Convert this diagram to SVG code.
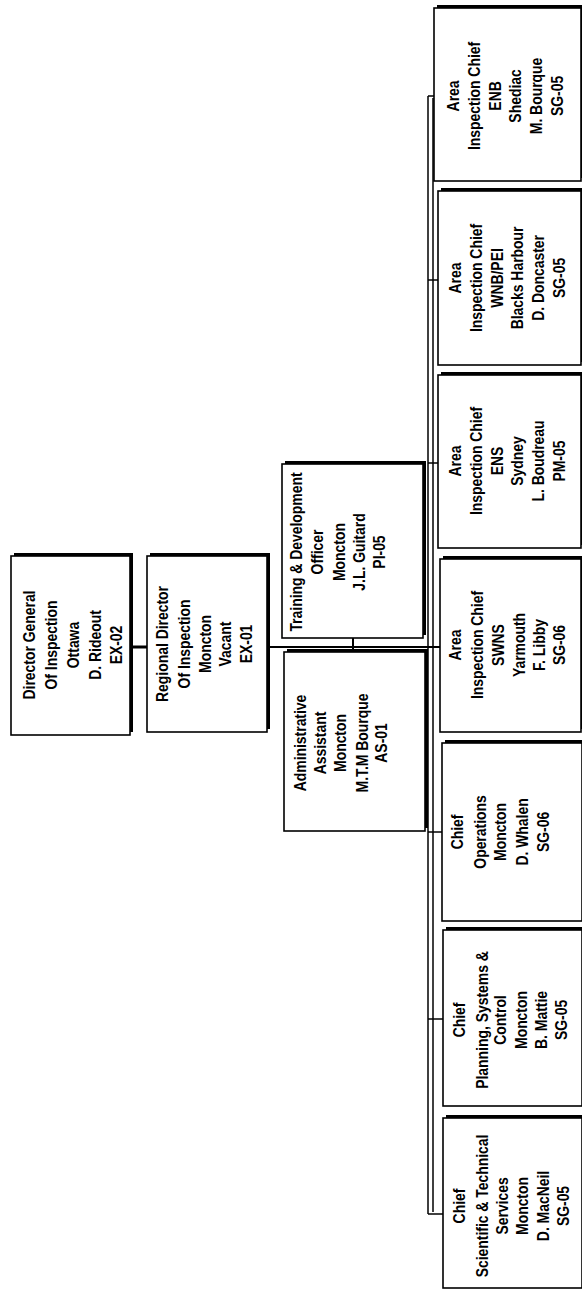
<svg xmlns="http://www.w3.org/2000/svg" width="582" height="1289" viewBox="0 0 582 1289">
<style>
.sh{fill:#000}
.bx{fill:#fff;stroke:#000;stroke-width:1.6}
.t{font-family:"Liberation Sans",Arial,sans-serif;font-weight:bold;font-size:16px;fill:#000;text-anchor:middle}
.c{stroke:#000;fill:none}
</style>
<rect width="582" height="1289" fill="#fff"/>
<g id="connectors">
<line class="c" x1="130" y1="647" x2="147" y2="647" stroke-width="3"/>
<line class="c" x1="267" y1="647" x2="440" y2="647" stroke-width="2"/>
<line class="c" x1="353" y1="638" x2="353" y2="653" stroke-width="2"/>
<line class="c" x1="428" y1="96" x2="428" y2="1214" stroke-width="1.5"/>
<line class="c" x1="433" y1="98" x2="433" y2="1212" stroke-width="1.5"/>
<line class="c" x1="428" y1="96" x2="434" y2="96" stroke-width="1.5"/>
<line class="c" x1="428" y1="280" x2="438" y2="280" stroke-width="1.5"/>
<line class="c" x1="428" y1="463" x2="438" y2="463" stroke-width="1.5"/>
<line class="c" x1="428" y1="832" x2="442" y2="832" stroke-width="1.5"/>
<line class="c" x1="428" y1="1019" x2="443" y2="1019" stroke-width="1.5"/>
<line class="c" x1="428" y1="1214" x2="443" y2="1214" stroke-width="1.5"/>
</g>
<g id="dg">
<rect class="sh" x="14" y="553" width="119" height="179"/>
<rect class="bx" x="11" y="556" width="119" height="179"/>
<text class="t" transform="rotate(-90) scale(0.87,1)"><tspan x="-741.4" y="35">Director General</tspan><tspan x="-741.4" y="57">Of Inspection</tspan><tspan x="-741.4" y="79">Ottawa</tspan><tspan x="-741.4" y="101">D. Rideout</tspan><tspan x="-741.4" y="122">EX-02</tspan></text>
</g>
<g id="rd">
<rect class="sh" x="150" y="553" width="120" height="176"/>
<rect class="bx" x="147" y="556" width="120" height="176"/>
<text class="t" transform="rotate(-90) scale(0.87,1)"><tspan x="-740.2" y="168">Regional Director</tspan><tspan x="-740.2" y="190">Of Inspection</tspan><tspan x="-740.2" y="211">Moncton</tspan><tspan x="-740.2" y="231">Vacant</tspan><tspan x="-740.2" y="252">EX-01</tspan></text>
</g>
<g id="td">
<rect class="sh" x="285" y="461" width="141" height="174"/>
<rect class="bx" x="282" y="464" width="141" height="174"/>
<text class="t" transform="rotate(-90) scale(0.87,1)"><tspan x="-634.5" y="302">Training &amp; Development</tspan><tspan x="-634.5" y="323">Officer</tspan><tspan x="-634.5" y="345">Moncton</tspan><tspan x="-634.5" y="365">J.L. Guitard</tspan><tspan x="-634.5" y="385">PI-05</tspan></text>
</g>
<g id="aa">
<rect class="sh" x="287" y="649" width="141" height="179"/>
<rect class="bx" x="284" y="652" width="141" height="179"/>
<text class="t" transform="rotate(-90) scale(0.87,1)"><tspan x="-854" y="306">Administrative</tspan><tspan x="-854" y="326">Assistant</tspan><tspan x="-854" y="346">Moncton</tspan><tspan x="-854" y="368">M.T.M Bourque</tspan><tspan x="-854" y="387">AS-01</tspan></text>
</g>
<g id="enb">
<rect class="sh" x="437" y="5" width="147" height="173"/>
<rect class="bx" x="434" y="8" width="147" height="173"/>
<text class="t" transform="rotate(-90) scale(0.87,1)"><tspan x="-110.3" y="459">Area</tspan><tspan x="-110.3" y="480">Inspection Chief</tspan><tspan x="-110.3" y="501">ENB</tspan><tspan x="-110.3" y="521">Shediac</tspan><tspan x="-110.3" y="542">M. Bourque</tspan><tspan x="-110.3" y="563">SG-05</tspan></text>
</g>
<g id="wnb">
<rect class="sh" x="441" y="188" width="143" height="174"/>
<rect class="bx" x="438" y="191" width="143" height="174"/>
<text class="t" transform="rotate(-90) scale(0.87,1)"><tspan x="-319.5" y="461">Area</tspan><tspan x="-319.5" y="482">Inspection Chief</tspan><tspan x="-319.5" y="503">WNB/PEI</tspan><tspan x="-319.5" y="523">Blacks Harbour</tspan><tspan x="-319.5" y="544">D. Doncaster</tspan><tspan x="-319.5" y="565">SG-05</tspan></text>
</g>
<g id="ens">
<rect class="sh" x="441" y="372" width="143" height="173"/>
<rect class="bx" x="438" y="375" width="143" height="173"/>
<text class="t" transform="rotate(-90) scale(0.87,1)"><tspan x="-529.9" y="461">Area</tspan><tspan x="-529.9" y="482">Inspection Chief</tspan><tspan x="-529.9" y="503">ENS</tspan><tspan x="-529.9" y="523">Sydney</tspan><tspan x="-529.9" y="544">L. Boudreau</tspan><tspan x="-529.9" y="565">PM-05</tspan></text>
</g>
<g id="swns">
<rect class="sh" x="443" y="556" width="141" height="173"/>
<rect class="bx" x="440" y="559" width="141" height="173"/>
<text class="t" transform="rotate(-90) scale(0.87,1)"><tspan x="-741.4" y="461">Area</tspan><tspan x="-741.4" y="483">Inspection Chief</tspan><tspan x="-741.4" y="504">SWNS</tspan><tspan x="-741.4" y="525">Yarmouth</tspan><tspan x="-741.4" y="545">F. Libby</tspan><tspan x="-741.4" y="565">SG-06</tspan></text>
</g>
<g id="ops">
<rect class="sh" x="445" y="740" width="140" height="178"/>
<rect class="bx" x="442" y="743" width="140" height="178"/>
<text class="t" transform="rotate(-90) scale(0.87,1)"><tspan x="-956.3" y="463">Chief</tspan><tspan x="-956.3" y="486">Operations</tspan><tspan x="-956.3" y="506">Moncton</tspan><tspan x="-956.3" y="528">D. Whalen</tspan><tspan x="-956.3" y="549">SG-06</tspan></text>
</g>
<g id="plan">
<rect class="sh" x="446" y="927" width="139" height="176"/>
<rect class="bx" x="443" y="930" width="139" height="176"/>
<text class="t" transform="rotate(-90) scale(0.87,1)"><tspan x="-1172.4" y="465">Chief</tspan><tspan x="-1172.4" y="488">Planning, Systems &amp;</tspan><tspan x="-1172.4" y="506">Control</tspan><tspan x="-1172.4" y="527">Moncton</tspan><tspan x="-1172.4" y="547">B. Mattie</tspan><tspan x="-1172.4" y="567">SG-05</tspan></text>
</g>
<g id="sci">
<rect class="sh" x="446" y="1115" width="139" height="170"/>
<rect class="bx" x="443" y="1118" width="139" height="170"/>
<text class="t" transform="rotate(-90) scale(0.87,1)"><tspan x="-1386.2" y="465">Chief</tspan><tspan x="-1386.2" y="488">Scientific &amp; Technical</tspan><tspan x="-1386.2" y="508">Services</tspan><tspan x="-1386.2" y="528">Moncton</tspan><tspan x="-1386.2" y="549">D. MacNeil</tspan><tspan x="-1386.2" y="569">SG-05</tspan></text>
</g>
</svg>
